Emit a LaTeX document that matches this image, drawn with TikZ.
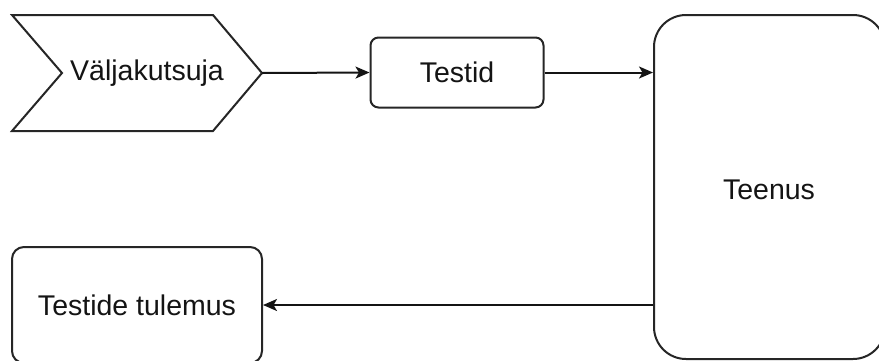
\documentclass[tikz,border=0pt]{standalone}
\usepackage{fontspec}
\setmainfont{Liberation Sans}
\usetikzlibrary{arrows.meta}
\begin{document}
\begin{tikzpicture}[x=1pt,y=-1pt,
  outline/.style={draw=black!85, line width=2pt, fill=white},
  label/.style={font=\fontsize{28.5}{32}\selectfont, text=black!92, inner sep=0pt},
  boxnode/.style={outline, label, rectangle},
  flow/.style={draw=black!92, line width=2pt, -{Stealth[length=14pt,width=12pt,inset=3.5pt]}}]
  \useasboundingbox (0,0) rectangle (879,360);
  \clip (0,0) rectangle (879,360);

  % chevron-shaped caller
  \coordinate (vTip) at (262,73);
  \path[outline, line join=miter] (12,15) -- (213,15) -- (vTip) -- (213,131)
        -- (12,131) -- (62,73) -- cycle;
  \node[label] (valj) at (147,73) {Väljakutsuja};

  % tests
  \node[boxnode, rounded corners=8pt, minimum width=173pt, minimum height=70pt]
        (testid) at (457,72.5) {Testid};

  % service
  \node[boxnode, rounded corners=32pt, minimum width=231pt, minimum height=344pt]
        (teenus) at (769.5,187) {};
  \node[label] (teenusTxt) at (769,190) {Teenus};

  % results
  \node[boxnode, rounded corners=12pt, minimum width=250pt, minimum height=116pt]
        (tulemus) at (137,305) {Testide tulemus};

  % connectors
  \draw[flow] (vTip) -- (testid.west);
  \draw[flow] (testid.east) -- (testid.east -| teenus.west);
  \draw[flow] (tulemus.east -| teenus.west) -- (tulemus.east);
\end{tikzpicture}
\end{document}
